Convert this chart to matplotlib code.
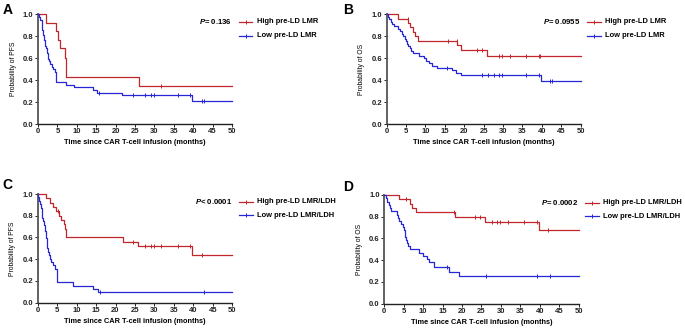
import numpy as np
import matplotlib
matplotlib.use('Agg')
import matplotlib.pyplot as plt

plt.rcParams['font.family'] = ['Liberation Sans', 'DejaVu Sans']
plt.rcParams['font.weight'] = 'bold'
plt.rcParams['mathtext.fontset'] = 'custom'
plt.rcParams['mathtext.it'] = 'Liberation Sans:italic:bold'
plt.rcParams['mathtext.rm'] = 'Liberation Sans:bold'

RED = '#C0272D'
BLUE = '#2626D4'

# ---- panel A : PFS, LMR ----
a_hi_t = [0, 2.15, 4.55, 5.15, 5.6, 7.0, 7.2, 25.9]
a_hi_s = [1.0, 0.923, 0.846, 0.769, 0.692, 0.60, 0.43, 0.345]
a_hi_c = [31.7]
a_lo_t = [0, 0.3, 0.6, 0.9, 1.1, 1.3, 1.5, 1.8, 2.0, 2.3, 2.6, 2.9, 3.2, 3.5, 3.9, 4.3, 4.7,
          7.3, 9.3, 14.2, 15.3, 21.7, 39.8]
a_lo_s = [1.0, 0.976, 0.952, 0.905, 0.857, 0.81, 0.762, 0.714, 0.69, 0.643, 0.595, 0.571, 0.548,
          0.524, 0.50, 0.476, 0.381, 0.357, 0.333, 0.31, 0.286, 0.262, 0.214]
a_lo_c = [15.6, 24.5, 27.7, 29.0, 29.8, 36.0, 39.3, 42.3, 42.8]

# ---- panel B : OS, LMR ----
b_hi_t = [0, 2.9, 5.6, 6.1, 6.7, 7.3, 8.0, 18.2, 19.2, 25.9]
b_hi_s = [1.0, 0.96, 0.92, 0.88, 0.84, 0.80, 0.76, 0.716, 0.672, 0.62]
b_hi_c = [5.4, 15.9, 18.0, 23.4, 24.5, 29.0, 29.8, 31.7, 36.0, 39.2, 39.5]
b_lo_t = [0, 0.4, 0.7, 1.0, 1.3, 2.0, 3.0, 3.5, 3.9, 4.3, 4.7, 5.0, 5.3, 5.6, 5.9, 6.3, 6.7,
          8.3, 9.5, 10.2, 11.0, 11.6, 13.0, 16.8, 17.8, 19.1, 39.8]
b_lo_s = [1.0, 0.978, 0.956, 0.933, 0.911, 0.889, 0.867, 0.844, 0.822, 0.800, 0.778, 0.756,
          0.733, 0.711, 0.689, 0.667, 0.644, 0.622, 0.600, 0.578, 0.556, 0.533, 0.511, 0.489,
          0.467, 0.445, 0.39]
b_lo_c = [15.6, 24.5, 26.2, 27.7, 29.0, 29.8, 36.0, 39.2, 42.0, 42.5]

# ---- panel C : PFS, LMR/LDH ----
c_hi_t = [0, 2.1, 3.2, 4.0, 4.7, 5.6, 5.9, 6.8, 7.0, 7.2, 7.4, 21.8, 25.9, 39.7]
c_hi_s = [1.0, 0.96, 0.92, 0.88, 0.84, 0.80, 0.76, 0.72, 0.68, 0.64, 0.60, 0.56, 0.52, 0.435]
c_hi_c = [5.2, 24.4, 27.7, 29.0, 29.8, 31.7, 36.0, 39.2, 42.2]
c_lo_t = [0, 0.2, 0.4, 0.6, 0.8, 1.0, 1.1, 1.2, 1.4, 1.6, 1.8, 2.0, 2.1, 2.2, 2.3, 2.4, 2.5,
          2.7, 2.9, 3.1, 3.4, 3.9, 4.5, 4.9, 9.2, 14.3, 15.4]
c_lo_s = [1.0, 0.969, 0.938, 0.906, 0.875, 0.844, 0.812, 0.781, 0.75, 0.719, 0.688, 0.656,
          0.625, 0.594, 0.562, 0.531, 0.50, 0.469, 0.438, 0.406, 0.375, 0.344, 0.312, 0.188,
          0.156, 0.125, 0.094]
c_lo_c = [16.0, 42.8]

# ---- panel D : OS, LMR/LDH ----
d_hi_t = [0, 3.8, 6.7, 7.2, 8.1, 18.2, 25.9, 39.8]
d_hi_s = [1.0, 0.96, 0.92, 0.88, 0.84, 0.80, 0.755, 0.675]
d_hi_c = [5.5, 17.9, 23.4, 24.5, 27.7, 29.0, 29.8, 31.7, 36.0, 39.3, 42.2]
d_lo_t = [0, 0.4, 0.7, 1.1, 1.5, 1.8, 3.3, 3.6, 3.9, 4.4, 4.7, 5.0, 5.2, 5.4, 5.6, 5.8, 6.1,
          6.7, 8.9, 9.9, 10.9, 11.5, 12.9, 16.7, 19.3]
d_lo_s = [1.0, 0.97, 0.94, 0.91, 0.88, 0.85, 0.82, 0.79, 0.76, 0.735, 0.705, 0.675, 0.645,
          0.615, 0.585, 0.56, 0.53, 0.50, 0.47, 0.44, 0.41, 0.38, 0.335, 0.295, 0.255]
d_lo_c = [16.1, 26.1, 39.3, 42.5]

panels = [
    ('A', [0.0555, 0.6242, 0.2832, 0.3325], 'Probability of PFS', 'P= 0.136',
     ['High pre-LD LMR', 'Low pre-LD LMR'],
     (a_hi_t, a_hi_s, a_hi_c), (a_lo_t, a_lo_s, a_lo_c), (0.004, 0.99)),
    ('B', [0.5645, 0.6242, 0.2832, 0.3325], 'Probability of OS', 'P= 0.0955',
     ['High pre-LD LMR', 'Low pre-LD LMR'],
     (b_hi_t, b_hi_s, b_hi_c), (b_lo_t, b_lo_s, b_lo_c), (0.5007, 0.99)),
    ('C', [0.0550, 0.0827, 0.2841, 0.3294], 'Probability of PFS', 'P< 0.0001',
     ['High pre-LD LMR/LDH', 'Low pre-LD LMR/LDH'],
     (c_hi_t, c_hi_s, c_hi_c), (c_lo_t, c_lo_s, c_lo_c), (0.004, 0.462)),
    ('D', [0.5610, 0.0797, 0.2838, 0.3294], 'Probability of OS', 'P= 0.0002',
     ['High pre-LD LMR/LDH', 'Low pre-LD LMR/LDH'],
     (d_hi_t, d_hi_s, d_hi_c), (d_lo_t, d_lo_s, d_lo_c), (0.5007, 0.456)),
]


def km_curve(ax, t, s, cens, color):
    # step curve carried to the end of follow-up
    tt = list(t) + [50]
    ss = list(s) + [s[-1]]
    ax.step(tt, ss, where='post', color=color, lw=0.9, clip_on=False, zorder=3)
    idx = np.searchsorted(t, cens, side='right') - 1
    cy = np.array(s)[idx]
    ax.plot(cens, cy, ls='none', marker='|', ms=2.5, mew=0.7, color=color, zorder=3)


fig = plt.figure(figsize=(6.85, 3.3), dpi=100)

for letter, rect, ylab, ptxt, labels, hi, lo, lpos in panels:
    ax = fig.add_axes(rect)
    km_curve(ax, *hi, RED)
    km_curve(ax, *lo, BLUE)

    ax.set_xlim(0, 50)
    ax.set_ylim(0, 1)
    ax.set_xticks(np.arange(0, 51, 5))
    ax.set_yticks(np.arange(0, 1.01, 0.2))
    ax.set_yticklabels(['%.1f' % v for v in np.arange(0, 1.01, 0.2)])
    ax.tick_params(labelsize=5.5, length=2, width=0.7, pad=1.2, colors='#222222')
    for sp in ['top', 'right']:
        ax.spines[sp].set_visible(False)
    ax.spines['left'].set_linewidth(1.3)
    ax.spines['left'].set_color('#555555')
    ax.spines['bottom'].set_linewidth(1.0)
    ax.spines['bottom'].set_color('#222222')
    ax.set_xlabel('Time since CAR T-cell infusion (months)', fontsize=5.3, fontweight='bold',
                  labelpad=2.5)
    ax.set_ylabel(ylab, fontsize=4.9, fontweight='normal', labelpad=4.5)

    # p value + legend
    ptxt = ptxt.replace('P', r'$\it{P}$', 1)
    ax.text(1.0, 0.93, ptxt, transform=ax.transAxes, ha='right', va='center', fontsize=5.6)
    for row, (lab, col) in enumerate(zip(labels, [RED, BLUE])):
        yy = 0.93 - row * 0.125
        ax.plot([1.035, 1.105], [yy, yy], transform=ax.transAxes, color=col, lw=0.9, clip_on=False)
        ax.plot([1.07], [yy], transform=ax.transAxes, color=col, marker='|', ms=2.5, mew=0.7,
                clip_on=False)
        ax.text(1.127, yy, lab, transform=ax.transAxes, ha='left', va='center', fontsize=5.4)

    fig.text(lpos[0], lpos[1], letter, ha='left', va='top', fontsize=10, fontweight='bold')

fig.savefig('out.png', dpi=100)
